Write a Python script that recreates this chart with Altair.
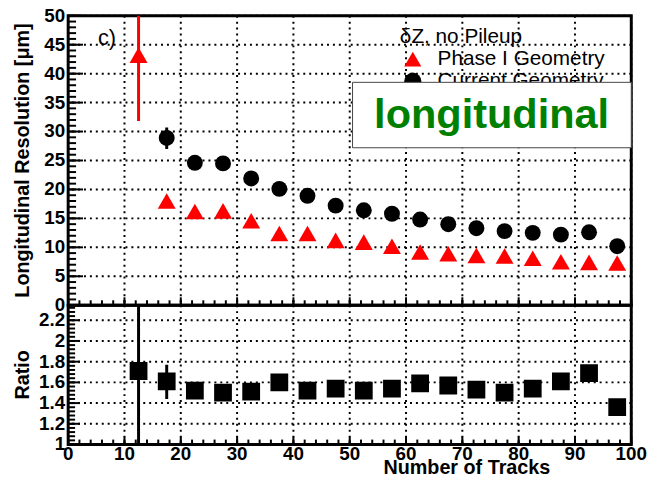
import altair as alt
import pandas as pd

FONT = "Liberation Sans"

# Bin centres in number of tracks
tracks = [12.5, 17.5, 22.5, 27.5, 32.5, 37.5, 42.5, 47.5, 52.5,
          57.5, 62.5, 67.5, 72.5, 77.5, 82.5, 87.5, 92.5, 97.5]
# Longitudinal resolution [um]
phase1_res = [43.2, 18.0, 16.2, 16.3, 14.6, 12.4, 12.4, 11.2, 10.9,
              10.2, 9.2, 8.9, 8.6, 8.5, 8.1, 7.5, 7.4, 7.3]
current_tracks = [17.5, 22.5, 27.5, 32.5, 37.5, 42.5, 47.5, 52.5,
                  57.5, 62.5, 67.5, 72.5, 77.5, 82.5, 87.5, 92.5, 97.5]
current_res = [28.9, 24.6, 24.5, 21.9, 20.1, 18.9, 17.2, 16.4,
               15.8, 14.8, 14.0, 13.3, 12.8, 12.5, 12.2, 12.6, 10.2]
# Current / Phase I
ratio = [1.71, 1.61, 1.52, 1.50, 1.51, 1.60, 1.52, 1.54, 1.52,
         1.54, 1.59, 1.57, 1.53, 1.50, 1.54, 1.61, 1.69, 1.36]

# Error bars that stick out of the markers
phase1_err_x = [12.5]
phase1_err_lo = [31.8]
phase1_err_hi = [56.0]
current_err_x = [17.5]
current_err_lo = [27.0]
current_err_hi = [30.7]
ratio_err_x = [12.5, 17.5, 22.5, 97.5]
ratio_err_lo = [0.8, 1.44, 1.47, 1.31]
ratio_err_hi = [2.6, 1.77, 1.57, 1.42]

# Axis ticks and their labels
x_major = list(range(0, 101, 10))
x_minor = list(range(0, 101, 2))
y_major_top = list(range(0, 51, 5))
y_minor_top = list(range(0, 51, 1))
y_major_bot = [1.0, 1.2, 1.4, 1.6, 1.8, 2.0, 2.2]
y_minor_bot = [round(1.0 + 0.04 * i, 2) for i in range(34)]

# Titles, legend and annotation content
y_title_top = ["Longitudinal Resolution [μm]"]
y_title_bot = ["Ratio"]
x_title = ["Number of Tracks"]
header_text = ["δZ, no Pileup"]
legend_labels = ["Phase I Geometry", "Current Geometry"]
legend_colors = ["#ff0000", "black"]
legend_shapes = ["triangle-up", "circle"]
legend_y = [42.5, 38.7]
box_label = ["longitudinal"]
panel_tag = ["c)"]

W = 570
H_TOP = 293
H_BOT = 141

top_df = pd.DataFrame({"tracks": tracks, "phase1": phase1_res})
cur_df = pd.DataFrame({"tracks": current_tracks, "current": current_res})
ratio_df = pd.DataFrame({"tracks": tracks, "ratio": ratio})
p1_err = pd.DataFrame({"tracks": phase1_err_x, "lo": phase1_err_lo, "hi": phase1_err_hi})
cur_err = pd.DataFrame({"tracks": current_err_x, "lo": current_err_lo, "hi": current_err_hi})
r_err = pd.DataFrame({"tracks": ratio_err_x, "lo": ratio_err_lo, "hi": ratio_err_hi})

xs = alt.Scale(domain=[0, 100], nice=False, zero=False)
ys_top = alt.Scale(domain=[0, 50], nice=False, zero=False)
ys_bot = alt.Scale(domain=[1.0, 2.345], nice=False, zero=False)

GRID = dict(color="black", strokeDash=[2, 4], strokeWidth=2)
LABEL = dict(font=FONT, fontSize=19, fontWeight="bold", color="black")
TITLE = dict(font=FONT, fontSize=20, fontWeight="bold", color="black")


def X(f):
    return alt.X(f, scale=xs, axis=None)


def vals(v):
    return pd.DataFrame({"v": v, "lab": [f"{x:g}" for x in v]})


def frame_layers(ys, y_major, y_minor, height, y_title, ylen, x_labels=False):
    """Dotted grid, ROOT-style inward ticks, tick labels and axis titles."""
    Y = lambda f: alt.Y(f, scale=ys, axis=None)
    major_len, minor_len = ylen
    layers = [
        alt.Chart(vals(y_major)).mark_rule(**GRID).encode(y=Y("v:Q")),
        alt.Chart(vals(x_major)).mark_rule(**GRID).encode(x=X("v:Q")),
        alt.Chart(vals(y_minor)).mark_rule(color="black", strokeWidth=2).encode(
            y=Y("v:Q"), x=alt.value(0), x2=alt.value(minor_len)),
        alt.Chart(vals(y_major)).mark_rule(color="black", strokeWidth=2).encode(
            y=Y("v:Q"), x=alt.value(0), x2=alt.value(major_len)),
        alt.Chart(vals(x_minor)).mark_rule(color="black", strokeWidth=2).encode(
            x=X("v:Q"), y=alt.value(height), y2=alt.value(height - 5)),
        alt.Chart(vals(x_major)).mark_rule(color="black", strokeWidth=2).encode(
            x=X("v:Q"), y=alt.value(height), y2=alt.value(height - 8)),
        # y tick labels
        alt.Chart(vals(y_major)).mark_text(align="right", baseline="middle", **LABEL).encode(
            y=Y("v:Q"), x=alt.value(-3), text="lab:N"),
        # y axis title
        alt.Chart(pd.DataFrame({"t": y_title})).mark_text(
            angle=270, align="center", baseline="middle", **TITLE
        ).encode(x=alt.value(-46), y=alt.value(height / 2), text="t:N"),
    ]
    if x_labels:
        layers += [
            alt.Chart(vals(x_major)).mark_text(align="center", baseline="top", **LABEL).encode(
                x=X("v:Q"), y=alt.value(height + 1), text="lab:N"),
            alt.Chart(pd.DataFrame({"t": x_title})).mark_text(
                align="right", baseline="alphabetic", **TITLE
            ).encode(x=alt.value(488), y=alt.value(height + 30), text="t:N"),
        ]
    return layers


# ---------------- upper panel: resolution ----------------
TY = lambda f: alt.Y(f, scale=ys_top, axis=None)

p1_bar = alt.Chart(p1_err).mark_rule(color="#ff0000", strokeWidth=3, clip=True).encode(
    x=X("tracks:Q"), y=TY("lo:Q"), y2="hi:Q")
cur_bar = alt.Chart(cur_err).mark_rule(color="black", strokeWidth=3, clip=True).encode(
    x=X("tracks:Q"), y=TY("lo:Q"), y2="hi:Q")
p1_pts = alt.Chart(top_df).mark_point(shape="triangle-up", filled=True, color="#ff0000",
                                      size=330, opacity=1, clip=True).encode(
    x=X("tracks:Q"), y=TY("phase1:Q"))
cur_pts = alt.Chart(cur_df).mark_point(shape="circle", filled=True, color="black",
                                       size=260, opacity=1, clip=True).encode(
    x=X("tracks:Q"), y=TY("current:Q"))

tag = alt.Chart(pd.DataFrame({"t": panel_tag, "x": [5.3], "y": [46.2]})).mark_text(
    font=FONT, fontSize=22, align="left", baseline="middle", color="black"
).encode(x=X("x:Q"), y=TY("y:Q"), text="t:N")

header = alt.Chart(pd.DataFrame({"t": header_text, "x": [58.9], "y": [46.4]})).mark_text(
    font=FONT, fontSize=21, align="left", baseline="middle", color="black"
).encode(x=X("x:Q"), y=TY("y:Q"), text="t:N")

leg_df = pd.DataFrame({"label": legend_labels, "color": legend_colors,
                       "shape": legend_shapes, "y": legend_y,
                       "xm": [61.2, 61.2], "xt": [65.6, 65.6]})
leg_marks = alt.Chart(leg_df).mark_point(filled=True, size=300, opacity=1).encode(
    x=X("xm:Q"), y=TY("y:Q"),
    color=alt.Color("color:N", scale=None),
    shape=alt.Shape("shape:N", scale=None),
)
leg_text = alt.Chart(leg_df).mark_text(
    font=FONT, fontSize=21, align="left", baseline="middle", color="black"
).encode(x=X("xt:Q"), y=TY("y:Q"), text="label:N")

box = alt.Chart(pd.DataFrame({"x": [50.5], "x2": [100], "y": [27.2], "y2": [38.5]})).mark_rect(
    fill="white", stroke="#444444", strokeWidth=1
).encode(x=X("x:Q"), x2="x2:Q", y=TY("y:Q"), y2="y2:Q")

box_text = alt.Chart(pd.DataFrame({"t": box_label, "x": [75.2], "y": [32.9]})).mark_text(
    font=FONT, fontSize=42, fontWeight="bold", align="center", baseline="middle", color="#008000"
).encode(x=X("x:Q"), y=TY("y:Q"), text="t:N")

top = alt.layer(
    *frame_layers(ys_top, y_major_top, y_minor_top, H_TOP, y_title_top, (15, 8)),
    p1_bar, cur_bar, p1_pts, cur_pts, tag, header,
    leg_marks, leg_text, box, box_text,
).properties(width=W, height=H_TOP)

# ---------------- lower panel: ratio ----------------
BY = lambda f: alt.Y(f, scale=ys_bot, axis=None)

r_bar = alt.Chart(r_err).mark_rule(color="black", strokeWidth=3, clip=True).encode(
    x=X("tracks:Q"), y=BY("lo:Q"), y2="hi:Q")
r_pts = alt.Chart(ratio_df).mark_point(shape="square", filled=True, color="black",
                                       size=324, opacity=1, clip=True).encode(
    x=X("tracks:Q"), y=BY("ratio:Q"))

bottom = alt.layer(
    *frame_layers(ys_bot, y_major_bot, y_minor_bot, H_BOT, y_title_bot, (12, 7), x_labels=True),
    r_bar, r_pts,
).properties(width=W, height=H_BOT)

chart = alt.vconcat(top, bottom, spacing=0, bounds="flush").properties(
    padding={"left": 11, "top": 2, "right": 5, "bottom": 0},
    background="white",
).configure_view(stroke="black", strokeWidth=3)

chart.save("out.html", embed_options={"renderer": "svg", "actions": False})
